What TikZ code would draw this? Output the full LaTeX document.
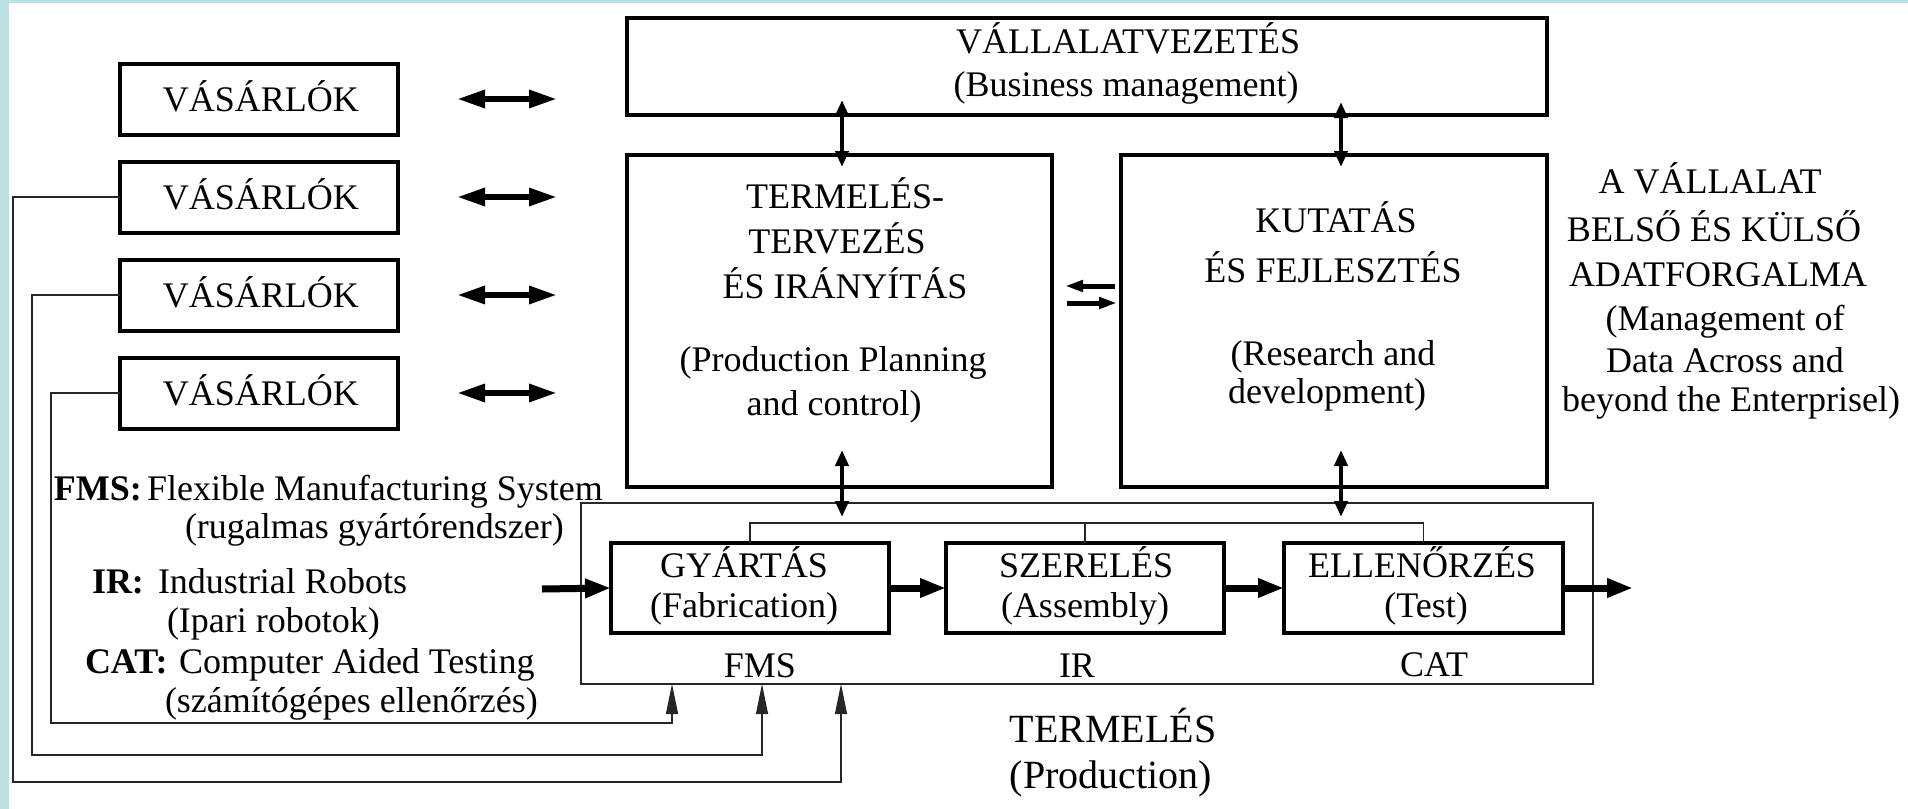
\documentclass[tikz,border=0pt]{standalone}
\usepackage{fontspec}
\setmainfont{Liberation Serif}
\usetikzlibrary{arrows.meta,calc}
\definecolor{frameblue}{RGB}{188,225,228}
\begin{document}
\begin{tikzpicture}[x=0.5pt,y=-0.5pt,
  thickbox/.style={draw, line width=2pt, inner sep=0pt, outer sep=0pt},
  hairbox/.style={draw=black!85, line width=0.6pt, inner sep=0pt, outer sep=0pt},
  txt/.style={inner sep=0pt, outer sep=0pt, anchor=base, font=\fontsize{18}{22}\selectfont},
  txtl/.style={txt, anchor=base west},
  bigtxt/.style={txt, font=\fontsize{20}{24}\selectfont},
  custarrow/.style={line width=3pt, {Triangle[length=14pt,width=8.5pt]}-{Triangle[length=14pt,width=8.5pt]}},
  vlink/.style={line width=2pt, {Triangle[length=8pt,width=6.5pt]}-{Triangle[length=8pt,width=6.5pt]}},
  flow/.style={line width=3.5pt, -{Triangle[length=13pt,width=9pt]}},
  smallarrow/.style={line width=2.5pt, -{Triangle[length=9pt,width=5.5pt]}},
  hair/.style={line width=0.6pt, draw=black!85},
  feedback/.style={hair, -{Triangle[length=15pt,width=6pt]}},
]
% page background with the blue edge
\fill[frameblue] (0,0) rectangle (1908,809);
\fill[white] (9,3) rectangle (1908,809);
\useasboundingbox (0,0) rectangle (1908,809);

% customers
\foreach \i/\y in {1/99,2/197,3/295,4/393}{
  \node[thickbox, minimum width=139pt, minimum height=35.5pt] (v\i) at (259,\y) {};
  \node[txt] (v\i t) at (261,\y+12) {VÁSÁRLÓK};
  \draw[custarrow] ($(v\i.east)+(59,0)$) -- ($(v\i.east)+(159,0)$);
}

% business management
\node[thickbox, minimum width=460pt, minimum height=48.5pt] (bm) at (1087,66.5) {};
\node[txt] (bm1) at (1128,53) {VÁLLALATVEZETÉS};
\node[txt] (bm2) at (1126,96) {(Business management)};

% production planning and control
\node[thickbox, minimum width=212.5pt, minimum height=166pt] (tpc) at (839.5,321) {};
\node[txt] (tpc1) at (845,208) {TERMELÉS-};
\node[txt] (tpc2) at (837,253) {TERVEZÉS};
\node[txt] (tpc3) at (845,298) {ÉS IRÁNYÍTÁS};
\node[txt] (tpc4) at (833,371) {(Production Planning};
\node[txt] (tpc5) at (834,415) {and control)};

% research and development
\node[thickbox, minimum width=213pt, minimum height=166pt] (rd) at (1334,321) {};
\node[txt] (rd1) at (1336,232) {KUTATÁS};
\node[txt] (rd2) at (1333,282) {ÉS FEJLESZTÉS};
\node[txt] (rd3) at (1333,365) {(Research and};
\node[txt] (rd4) at (1327,403) {development)};

% data management caption
\node[txt] (dm1) at (1710,193) {A VÁLLALAT};
\node[txt] (dm2) at (1714,241) {BELSŐ ÉS KÜLSŐ};
\node[txt] (dm3) at (1718,286) {ADATFORGALMA};
\node[txt] (dm4) at (1725,330) {(Management of};
\node[txt] (dm5) at (1725,372) {Data Across and};
\node[txt] (dm6) at (1731,411) {beyond the Enterprisel)};

% links between management blocks
\draw[vlink] ($(tpc.north)+(2.5,-55)$) -- ($(tpc.north)+(2.5,12)$);
\draw[vlink] ($(rd.north)+(7,-53)$) -- ($(rd.north)+(7,12)$);
\draw[smallarrow] ($(rd.west)+(-6,-35)$) -- ($(tpc.east)+(13,-35)$);
\draw[smallarrow] ($(tpc.east)+(15,-18)$) -- ($(rd.west)+(-4,-18)$);

% production
\node[hairbox, minimum width=506pt, minimum height=90.5pt] (prod) at (1087,593.5) {};
\node[thickbox, minimum width=139pt, minimum height=45pt] (fab) at (750,588) {};
\node[thickbox, minimum width=139pt, minimum height=45pt] (asm) at (1085,588) {};
\node[thickbox, minimum width=139.5pt, minimum height=45pt] (tst) at (1423.5,588) {};
\node[txt] (fab1) at (744,577) {GYÁRTÁS};
\node[txt] (fab2) at (744,617) {(Fabrication)};
\node[txt] (asm1) at (1086,577) {SZERELÉS};
\node[txt] (asm2) at (1085,617) {(Assembly)};
\node[txt] (tst1) at (1422,577) {ELLENŐRZÉS};
\node[txt] (tst2) at (1426,617) {(Test)};
\node[txt] (fmsl) at (760,677) {FMS};
\node[txt] (irl) at (1077,677) {IR};
\node[txt] (catl) at (1434,676) {CAT};
\node[bigtxt] (pr1) at (1113,742) {TERMELÉS};
\node[bigtxt] (pr2) at (1111,788) {(Production)};

% bus above the production cells
\draw[hair] (fab.north) -- ++(0,-20) coordinate (busl) -| (tst.north);
\draw[hair] (asm.north) -- (asm.north |- busl);
\draw[vlink] ($(tpc.south)+(2.5,-37)$) -- ($(busl -| tpc.south)+(2.5,-6)$);
\draw[vlink] ($(rd.south)+(7,-37)$) -- ($(busl -| rd.south)+(7,-6)$);

% material flow
\draw[flow] ($(fab.west)+(-69,1)$) -- (fab.west);
\draw[flow] (fab.east) -- (asm.west);
\draw[flow] (asm.east) -- (tst.west);
\draw[flow] (tst.east) -- ($(tst.east)+(70,0)$);

% feedback from customers to production
\draw[feedback] (v2.west) -- ++(-107,0) |- ($(prod.south west)+(260,98)$) -- ($(prod.south west)+(260,0)$);
\draw[feedback] (v3.west) -- ++(-88,0) |- ($(prod.south west)+(181,71)$) -- ($(prod.south west)+(181,0)$);
\draw[feedback] (v4.west) -- ++(-69,0) |- ($(prod.south west)+(91,39)$) -- ($(prod.south west)+(91,0)$);

% abbreviations
\node[txtl, font=\fontsize{18}{22}\selectfont\bfseries] (k1) at (54,500) {FMS:};
\node[txtl] (k1a) at (147,500) {Flexible Manufacturing System};
\node[txtl] (k1b) at (185,538) {(rugalmas gyártórendszer)};
\node[txtl, font=\fontsize{18}{22}\selectfont\bfseries] (k2) at (92,593) {IR:};
\node[txtl] (k2a) at (158,593) {Industrial Robots};
\node[txtl] (k2b) at (167,632) {(Ipari robotok)};
\node[txtl, font=\fontsize{18}{22}\selectfont\bfseries] (k3) at (85,673) {CAT:};
\node[txtl] (k3a) at (179,673) {Computer Aided Testing};
\node[txtl] (k3b) at (165,712) {(számítógépes ellenőrzés)};
\end{tikzpicture}
\end{document}
